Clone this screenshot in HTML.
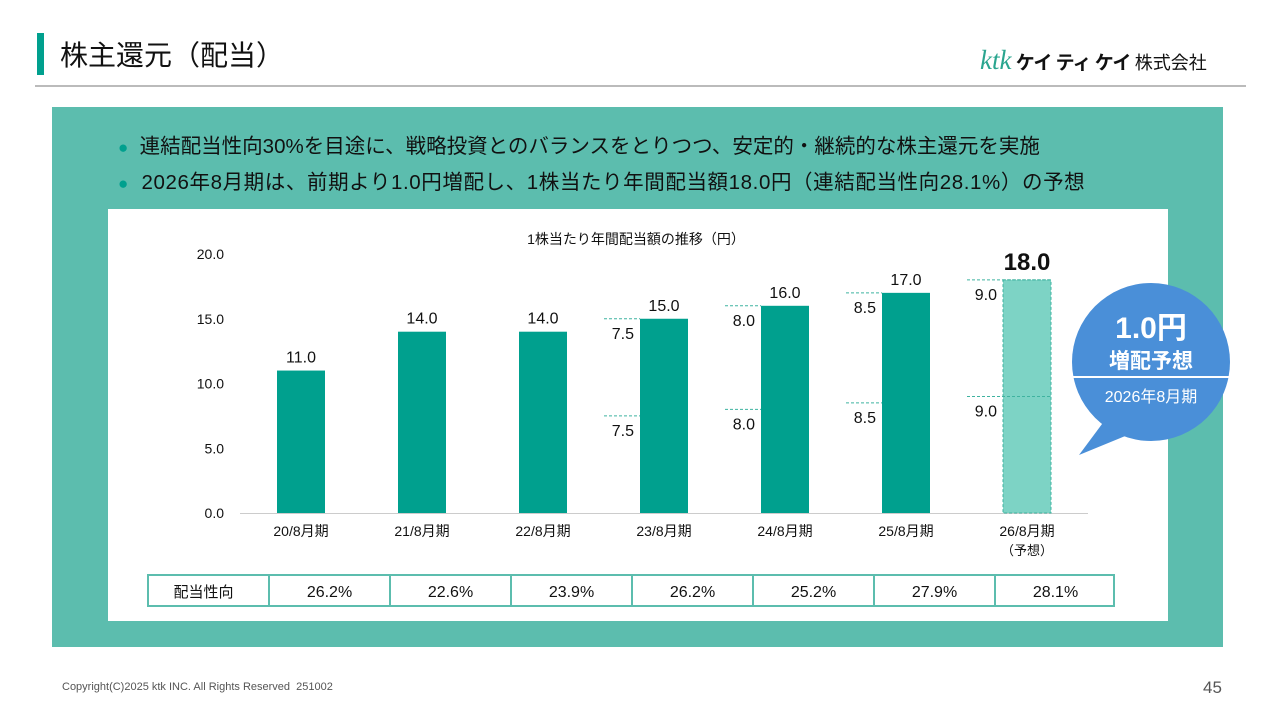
<!DOCTYPE html>
<html><head><meta charset="utf-8">
<style>
body{margin:0;width:1280px;height:720px;background:#fff;position:relative;overflow:hidden;font-family:"Liberation Sans","Noto Sans CJK JP",sans-serif;}
.abs{position:absolute;}
</style></head>
<body>
<div class="abs" style="left:37px;top:33px;width:7px;height:42px;background:#00a08e"></div>
<div class="abs" style="left:60px;top:34px;font-size:28px;color:#111">株主還元（配当）</div>
<div class="abs" style="left:980px;top:45px;font-size:19px;white-space:nowrap"><span style="font-family:'Liberation Serif',serif;font-style:italic;color:#2aa58f;font-size:27px">ktk</span><span style="font-weight:bold;color:#111;letter-spacing:-1px"> ケイ ティ ケイ </span><span style="font-size:18px;color:#111">株式会社</span></div>
<div class="abs" style="left:35px;top:85px;width:1211px;height:2px;background:#bbb"></div>
<div class="abs" style="left:52px;top:107px;width:1171px;height:540px;background:#5cbdae"></div>
<div class="abs" style="left:118px;top:129px;font-size:20.5px;color:#111;white-space:nowrap"><span style="color:#00a08e;font-size:17px">●</span>&nbsp; 連結配当性向30%を目途に、戦略投資とのバランスをとりつつ、安定的・継続的な株主還元を実施</div>
<div class="abs" style="left:118px;top:165px;font-size:20.5px;color:#111;white-space:nowrap;letter-spacing:0.6px"><span style="color:#00a08e;font-size:17px">●</span>&nbsp; 2026年8月期は、前期より1.0円増配し、1株当たり年間配当額18.0円（連結配当性向28.1%）の予想</div>
<div class="abs" style="left:108px;top:209px;width:1060px;height:412px;background:#fff"></div>
<svg class="abs" style="left:0;top:0" width="1280" height="720" id="chart"></svg>
<div class="abs" style="left:62px;top:681px;font-size:11px;color:#555">Copyright(C)2025 ktk INC. All Rights Reserved&nbsp; 251002</div>
<div class="abs" style="left:1203px;top:678px;font-size:17px;color:#555">45</div>
<script>
const categories=["20/8月期","21/8月期","22/8月期","23/8月期","24/8月期","25/8月期","26/8月期"];
const dividends=[11.0,14.0,14.0,15.0,16.0,17.0,18.0];
const interim=[null,null,null,7.5,8.0,8.5,9.0];
const payoutRatio=["26.2%","22.6%","23.9%","26.2%","25.2%","27.9%","28.1%"];
const yTicks=[0,5,10,15,20];
const NS="http://www.w3.org/2000/svg";
const svg=document.getElementById('chart');
const x0=240.5,band=121,bw=48,yBase=513,yTop=254;
const y=v=>yBase-(yBase-yTop)*v/20;
const xc=i=>x0+band*(i+0.5);
function mk(t,a,txt){const e=document.createElementNS(NS,t);for(const k in a)e.setAttribute(k,a[k]);if(txt!==undefined)e.textContent=txt;svg.appendChild(e);return e;}
const F='"Liberation Sans","Noto Sans CJK JP",sans-serif';
let e=mk('text',{x:636,y:244,'font-size':14,'text-anchor':'middle','font-family':F,fill:'#111'},'1株当たり年間配当額の推移（円）');

yTicks.forEach(t=>{let l=mk('text',{x:224,y:y(t)+5,'font-size':14,'text-anchor':'end','font-family':F,fill:'#111'},t.toFixed(1));
});
e=mk('line',{x1:240,x2:1088,y1:yBase+0.5,y2:yBase+0.5,stroke:'#ccc','stroke-width':1});

categories.forEach((c,i)=>{
 const cx=xc(i),v=dividends[i],fc=i===categories.length-1;
 let b=mk('rect',{x:cx-bw/2,y:y(v),width:bw,height:yBase-y(v),fill:fc?'#7dd3c5':'#00a08e',stroke:fc?'#3fb3a0':'none','stroke-dasharray':'3,2'});
 
 let lb=mk('text',{x:cx,y:y(v)-(fc?10:8),'font-size':fc?24:16,'font-weight':fc?'bold':'normal','text-anchor':'middle','font-family':F,fill:'#111'},v.toFixed(1));
 
 let xl=mk('text',{x:cx,y:536,'font-size':14,'text-anchor':'middle','font-family':F,fill:'#111'},c);
 
 if(fc){let s=mk('text',{x:cx,y:555,'font-size':13,'text-anchor':'middle','font-family':F,fill:'#111'},'（予想）');}
 if(interim[i]!==null){
  const a=interim[i],b2=v-a;
  [[a,v],[a,a]].forEach(([lv,yv],k)=>{
   let dl=mk('line',{x1:cx-bw/2-36,x2:cx+bw/2*(fc?1:-1),y1:y(yv),y2:y(yv),stroke:'#3fb3a0','stroke-width':1,'stroke-dasharray':'3,2'});
   
   let t=mk('text',{x:cx-bw/2-6,y:y(yv)+20,'font-size':16,'text-anchor':'end','font-family':F,fill:'#111'},(k===0?b2:a).toFixed(1));
   
  });
 }
});
const tx=148,ty=575,th=31,fw=121;
e=mk('rect',{x:tx,y:ty,width:fw+band*7-2,height:th,fill:'#fff',stroke:'#5cbdae','stroke-width':2});

e=mk('text',{x:tx+fw/2-5,y:ty+22,'font-size':15,'text-anchor':'middle','font-family':F,fill:'#111'},'配当性向');

payoutRatio.forEach((p,i)=>{
 const cx=tx+fw+band*i;
 let l=mk('line',{x1:cx,x2:cx,y1:ty,y2:ty+th,stroke:'#5cbdae','stroke-width':2});
 
 let t=mk('text',{x:cx+band/2,y:ty+22,'font-size':16,'text-anchor':'middle','font-family':F,fill:'#111'},p);
 
});
const g=document.createElementNS(NS,'g');svg.appendChild(g);


g.innerHTML='<path d="M1105,420 L1079,455 L1135,432 Z" fill="#4a8fd8"/><circle cx="1151" cy="362" r="79" fill="#4a8fd8"/><line x1="1073" x2="1229" y1="377" y2="377" stroke="#fff" stroke-width="2"/>'+
'<text x="1151" y="338" font-size="30" font-weight="bold" text-anchor="middle" fill="#fff" font-family=\''+F+'\'>1.0円</text>'+
'<text x="1151" y="368" font-size="21" font-weight="bold" text-anchor="middle" fill="#fff" font-family=\''+F+'\'>増配予想</text>'+
'<text x="1151" y="402" font-size="16" text-anchor="middle" fill="#fff" font-family=\''+F+'\'>2026年8月期</text>';
</script>
</body></html>
